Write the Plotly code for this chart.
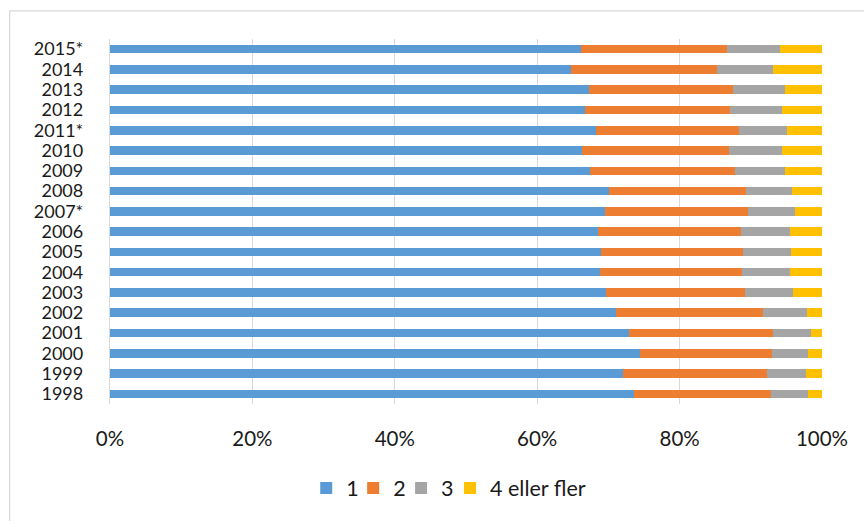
import plotly.graph_objects as go

# Share of households by number of members, per survey year (percent)
years = ["1998", "1999", "2000", "2001", "2002", "2003", "2004", "2005", "2006",
         "2007*", "2008", "2009", "2010", "2011*", "2012", "2013", "2014", "2015*"]
one = [73.6, 72.1, 74.4, 72.9, 71.1, 69.7, 68.8, 69.0, 68.5,
       69.5, 70.1, 67.4, 66.3, 68.2, 66.7, 67.3, 64.8, 66.2]
two = [19.2, 20.2, 18.6, 20.2, 20.6, 19.5, 20.0, 19.9, 20.1,
       20.1, 19.2, 20.4, 20.6, 20.1, 20.4, 20.2, 20.5, 20.4]
three = [5.2, 5.4, 5.0, 5.3, 6.2, 6.7, 6.7, 6.7, 6.9,
         6.6, 6.5, 7.0, 7.5, 6.8, 7.3, 7.3, 7.8, 7.5]
four_plus = [round(100 - a - b - c, 1) for a, b, c in zip(one, two, three)]

series_names = ["1", "2", "3", "4 eller fler"]
series_values = [one, two, three, four_plus]
colors = ["#5B9BD5", "#ED7D31", "#A5A5A5", "#FFC000"]
# each key gets its own legend box so the row can be spaced tightly
legend_ids = ["legend", "legend2", "legend3", "legend4"]
legend_left_px = [306, 353, 401, 450]

font_family = "Lato, 'Open Sans', sans-serif"
grid_color = "#D9D9D9"

fig = go.Figure()
for name, vals, col, lg in zip(series_names, series_values, colors, legend_ids):
    fig.add_trace(go.Bar(
        y=years, x=vals, name=name, orientation="h",
        marker=dict(color=col, line=dict(width=0)),
        legend=lg,
    ))

# plot-area geometry in pixels, used to place the outer frame and legend
W, H = 864, 521
L, R, T, B = 109.5, 41.5, 39, 113
pw, ph = W - L - R, H - T - B

def px_x(px):
    return (px - L) / pw

def px_y(py):
    return (H - B - py) / ph

legend_common = dict(
    orientation="h",
    yanchor="middle", y=px_y(493),
    xanchor="left",
    font=dict(size=21.5),
    itemwidth=30,
    bgcolor="rgba(0,0,0,0)",
)
legend_layout = {lg: dict(legend_common, x=px_x(left))
                 for lg, left in zip(legend_ids, legend_left_px)}

fig.update_layout(
    width=W, height=H,
    margin=dict(l=L, r=R, t=T, b=B),
    barmode="stack",
    bargap=0.58,
    plot_bgcolor="white",
    paper_bgcolor="white",
    font=dict(family=font_family, size=18, color="#1a1a1a"),
    showlegend=True,
    xaxis=dict(
        range=[0, 100], dtick=20, ticksuffix="%",
        showgrid=True, gridcolor=grid_color, gridwidth=1.3,
        zeroline=False, showline=False,
        ticks="", ticklabelstandoff=20,
        tickfont=dict(size=20.5),
    ),
    yaxis=dict(
        type="category", categoryorder="array", categoryarray=years,
        tickmode="array", tickvals=years, ticktext=years,
        showgrid=False, zeroline=False,
        showline=True, linecolor=grid_color, linewidth=1.3,
        ticks="", ticklabelstandoff=22,
        tickfont=dict(size=18),
    ),
    shapes=[dict(
        type="rect", xref="paper", yref="paper",
        x0=px_x(9), x1=px_x(900), y0=px_y(560), y1=px_y(10.5),
        line=dict(color=grid_color, width=1.3), fillcolor="rgba(0,0,0,0)",
        layer="below",
    )],
    **legend_layout,
)

fig.write_html("out.html")
